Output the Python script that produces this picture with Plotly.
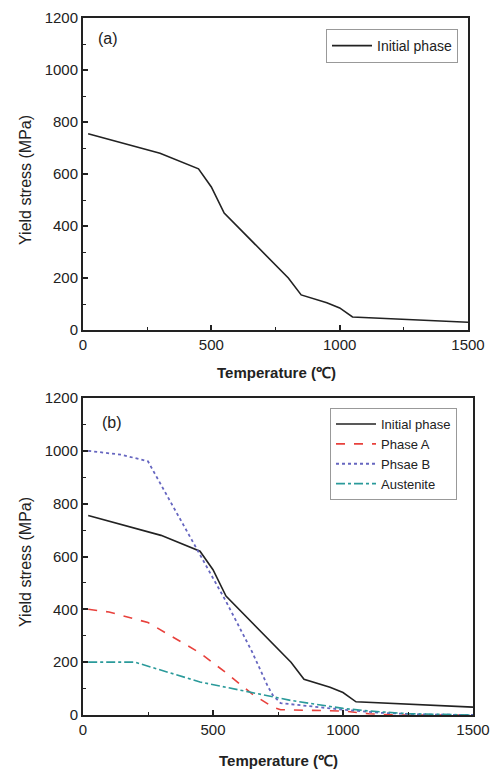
import plotly.graph_objects as go

# Data
T_init = [20, 300, 450, 500, 550, 800, 850, 950, 1000, 1050, 1500]
S_init = [755, 680, 620, 550, 450, 200, 135, 105, 85, 50, 30]

T_A = [20, 100, 250, 450, 550, 650, 730, 760, 1000, 1100, 1200, 1500]
S_A = [400, 390, 350, 235, 160, 80, 30, 20, 15, 5, 0, 0]

T_B = [20, 150, 250, 450, 550, 650, 710, 730, 760, 1000, 1150, 1300, 1500]
S_B = [1000, 985, 960, 610, 430, 240, 110, 75, 45, 20, 8, 2, 0]

T_Aus = [20, 200, 450, 700, 800, 1000, 1100, 1250, 1500]
S_Aus = [200, 200, 125, 75, 55, 25, 15, 5, 0]

fig = go.Figure()

W, H = 492, 771
def px_x(p): return p / W
def px_y(p): return 1 - p / H

font = "Liberation Sans, Arial, sans-serif"

fig.add_trace(go.Scatter(x=T_init, y=S_init, mode="lines", name="Initial phase",
                         line=dict(color="#222222", width=1.6), xaxis="x", yaxis="y",
                         legend="legend"))
fig.add_trace(go.Scatter(x=T_init, y=S_init, mode="lines", name="Initial phase",
                         line=dict(color="#222222", width=1.6), xaxis="x2", yaxis="y2",
                         legend="legend2"))
fig.add_trace(go.Scatter(x=T_A, y=S_A, mode="lines", name="Phase A",
                         line=dict(color="#e8413c", width=1.6, dash="dash"), xaxis="x2", yaxis="y2",
                         legend="legend2"))
fig.add_trace(go.Scatter(x=T_B, y=S_B, mode="lines", name="Phsae B",
                         line=dict(color="#6666c0", width=1.8, dash="dot"), xaxis="x2", yaxis="y2",
                         legend="legend2"))
fig.add_trace(go.Scatter(x=T_Aus, y=S_Aus, mode="lines", name="Austenite",
                         line=dict(color="#2a9a9a", width=1.6, dash="dashdot"), xaxis="x2", yaxis="y2",
                         legend="legend2"))

def xaxis(domain, anchor):
    return dict(domain=domain, anchor=anchor, range=[0, 1500], tickvals=[0, 500, 1000, 1500],
                ticks="inside", ticklen=5, tickwidth=1.5, tickcolor="#222",
                minor=dict(ticks="inside", ticklen=3, tickvals=[250, 750, 1250], tickcolor="#222", tickwidth=1.2),
                showline=True, linecolor="#222", linewidth=2, mirror=True,
                showgrid=False, zeroline=False, automargin=False,
                tickfont=dict(family=font, size=15, color="#222"))

def yaxis(domain, anchor):
    return dict(domain=domain, anchor=anchor, range=[0, 1200], dtick=200,
                ticks="inside", ticklen=5, tickwidth=1.5, tickcolor="#222",
                minor=dict(ticks="inside", ticklen=3, dtick=100, tickcolor="#222", tickwidth=1.2),
                showline=True, linecolor="#222", linewidth=2, mirror=True,
                showgrid=False, zeroline=False, automargin=False,
                tickfont=dict(family=font, size=15, color="#222"))

legend_common = dict(bgcolor="white", bordercolor="#999", borderwidth=1,
                     xanchor="left", yanchor="top", tracegroupgap=0, itemwidth=40)

def ann(text, x, y, size, angle=0, xanchor="center"):
    return dict(text=text, x=px_x(x), y=px_y(y), xref="paper", yref="paper", showarrow=False,
                xanchor=xanchor, yanchor="middle", textangle=angle,
                font=dict(family=font, size=size, color="#222"))

fig.update_layout(
    width=W, height=H,
    margin=dict(l=0, r=0, t=0, b=0, autoexpand=False),
    paper_bgcolor="white", plot_bgcolor="white",
    xaxis=xaxis([px_x(83), px_x(468)], "y"),
    yaxis=yaxis([px_y(330), px_y(18)], "x"),
    xaxis2=xaxis([px_x(83), px_x(473)], "y2"),
    yaxis2=yaxis([px_y(715), px_y(398)], "x2"),
    legend=dict(x=px_x(326), y=px_y(29), font=dict(family=font, size=14, color="#222"), **legend_common),
    legend2=dict(x=px_x(330), y=px_y(408), font=dict(family=font, size=13, color="#222"), **legend_common),
    annotations=[
        ann("(a)", 96, 38, 16, xanchor="left"),
        ann("(b)", 100, 422, 16, xanchor="left"),
        ann("Yield stress (MPa)", 25, 180, 16, angle=-90),
        ann("Yield stress (MPa)", 25, 562, 16, angle=-90),
        ann("<b>Temperature (℃)</b>", 276, 372, 15),
        ann("<b>Temperature (℃)</b>", 278, 760, 15),
    ],
    showlegend=True,
)

fig.write_html("out.html", config={"displayModeBar": False},
               post_script="document.body.style.margin='0';document.body.style.padding='0';")
